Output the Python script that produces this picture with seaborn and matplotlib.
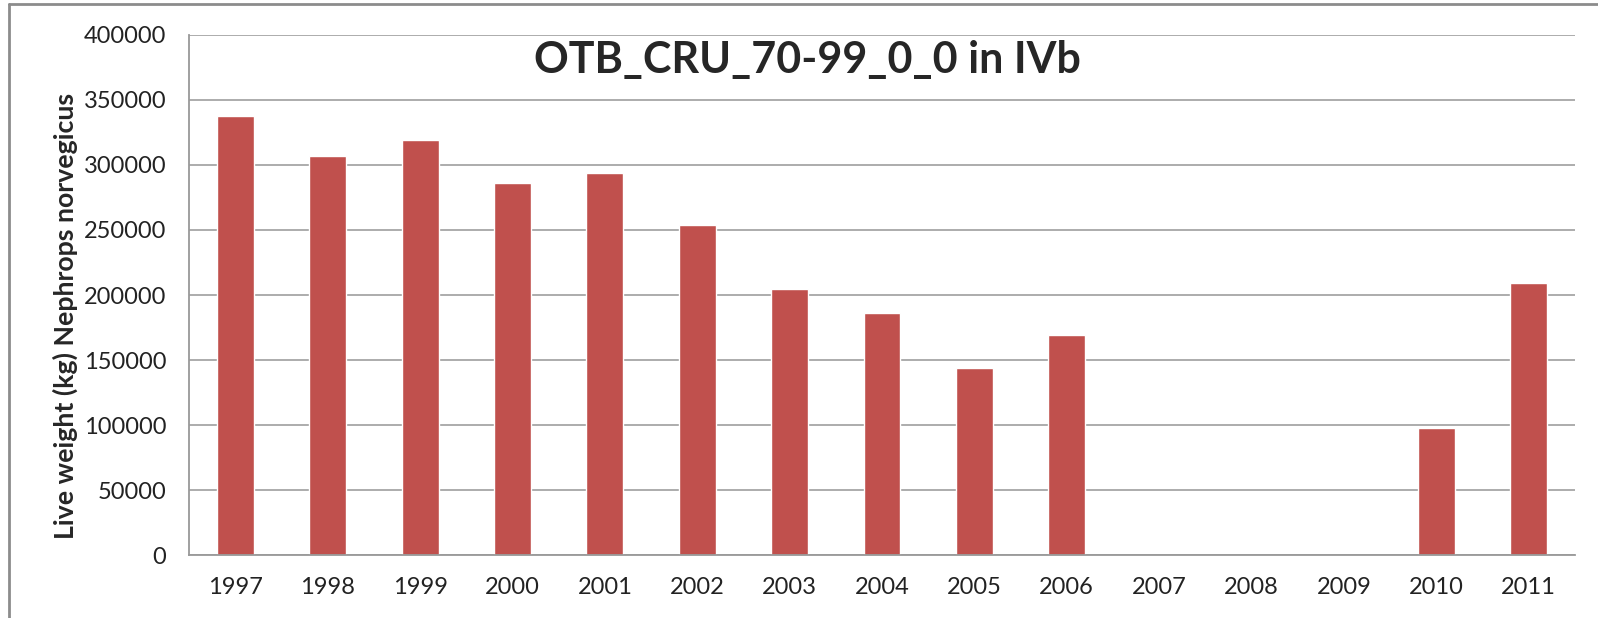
import matplotlib
matplotlib.use('Agg')
import numpy as np
import pandas as pd
import matplotlib.pyplot as plt
import seaborn as sns
from matplotlib.lines import Line2D

# Data
years = ['1997', '1998', '1999', '2000', '2001', '2002', '2003', '2004',
         '2005', '2006', '2007', '2008', '2009', '2010', '2011']
live_weight = [338000, 307000, 319000, 286500, 294000, 253500, 205000, 186000,
               144000, 169000, np.nan, np.nan, np.nan, 97800, 209500]
y_ticks = [0, 50000, 100000, 150000, 200000, 250000, 300000, 350000, 400000]

df = pd.DataFrame({'year': years, 'weight': live_weight})

sns.set_style('white')
plt.rcParams['font.family'] = ['Lato', 'DejaVu Sans']

fig = plt.figure(figsize=(15.98, 6.18), dpi=100)
ax = fig.add_axes([0.1183, 0.1019, 0.8673, 0.8415])

sns.barplot(data=df, x='year', y='weight', order=years, color='#C0504D',
            saturation=1, width=0.4, ax=ax, errorbar=None)

ax.set_ylim(0, 400000)
ax.set_xlim(-0.5, len(years) - 0.5)
ax.set_yticks(y_ticks)
ax.set_yticklabels([str(t) for t in y_ticks])
ax.grid(True, axis='y', color='#A6A6A6', linewidth=1.3)
ax.set_axisbelow(True)

# Excel style: ticks between the categories
ax.set_xticks(np.arange(len(years)))
ax.set_xticklabels(years)
ax.set_xticks(np.arange(len(years) + 1) - 0.5, minor=True)
ax.tick_params(axis='x', which='major', length=0, pad=16, labelsize=17, colors='#222222')
ax.tick_params(axis='x', which='minor', length=7, width=1.3, color='#999999', direction='out')
ax.tick_params(axis='y', length=6.5, width=1.3, color='#999999', direction='out',
               pad=10, labelsize=17, labelcolor='#222222')

for side in ['top', 'right']:
    ax.spines[side].set_visible(False)
for side in ['left', 'bottom']:
    ax.spines[side].set_visible(True)
    ax.spines[side].set_color('#999999')
    ax.spines[side].set_linewidth(1.3)

ax.set_xlabel('')
ax.set_ylabel('Live weight (kg) Nephrops norvegicus', fontsize=19.3, fontweight='bold')
ax.yaxis.set_label_coords(-0.080, 0.46)

ax.text(0.446, 0.99, 'OTB_CRU_70-99_0_0 in IVb', transform=ax.transAxes,
        ha='center', va='top', fontsize=31, fontweight='bold')

# outer chart frame
fig.add_artist(Line2D([9 / 1598, 9 / 1598], [0, 1 - 4 / 618], transform=fig.transFigure,
                      color='#8C8C8C', linewidth=2))
fig.add_artist(Line2D([9 / 1598, 1], [1 - 4 / 618, 1 - 4 / 618], transform=fig.transFigure,
                      color='#8C8C8C', linewidth=2))

fig.savefig('out.png', dpi=100)
